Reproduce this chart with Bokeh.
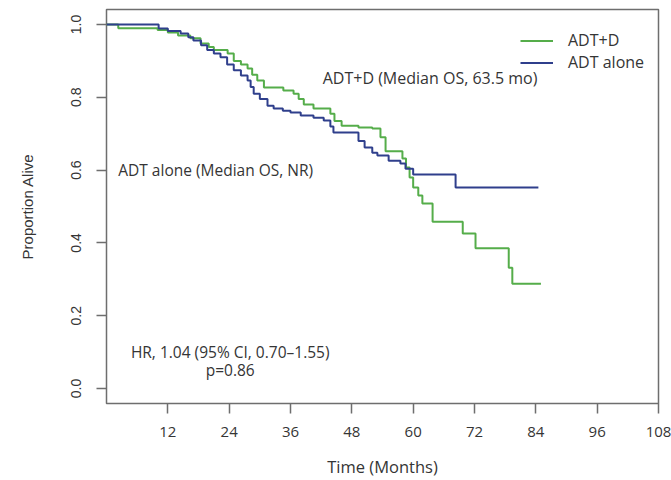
from bokeh.plotting import figure
from bokeh.models import Range1d, FixedTicker, Label, Legend, LegendItem
from bokeh.embed import file_html
from bokeh.resources import INLINE

# ---- data ----
adtd_time = [0, 2.3, 10, 12, 14, 16.4, 18.4, 20, 21, 23.7,
             24.9, 26.3, 27.6, 28.5, 29.5, 30.8, 34.6, 36.6, 37.6, 38.6,
             40.5, 43.8, 44.6, 46, 49.3, 52, 53.6, 54.6, 57.9, 58.6,
             59.3, 60, 61, 61.8, 63.8, 69.7, 72.2, 78.7, 79.4, 85]
adtd_surv = [1.0, 0.99, 0.985, 0.978, 0.97, 0.962, 0.948, 0.938, 0.93, 0.92,
             0.90, 0.89, 0.879, 0.862, 0.846, 0.827, 0.819, 0.81, 0.795, 0.78,
             0.769, 0.755, 0.735, 0.722, 0.717, 0.714, 0.69, 0.652, 0.632, 0.607,
             0.58, 0.552, 0.53, 0.508, 0.458, 0.426, 0.385, 0.332, 0.288, 0.288]

adt_time = [0, 10.2, 12, 14.5, 16, 17, 18.5, 19.7, 21, 22.3,
            23.6, 24.9, 26.3, 27.6, 28.2, 28.8, 30, 31.5, 32.7, 34.5,
            36, 38, 40.5, 42.5, 43.8, 44.4, 49.3, 50.5, 52, 53,
            55.2, 57.5, 58.5, 60, 68.3, 84.5]
adt_surv = [1.0, 0.989, 0.982, 0.975, 0.965, 0.956, 0.943, 0.93, 0.92, 0.91,
            0.89, 0.874, 0.86, 0.846, 0.828, 0.81, 0.795, 0.777, 0.769, 0.763,
            0.758, 0.75, 0.744, 0.736, 0.72, 0.703, 0.68, 0.662, 0.648, 0.64,
            0.626, 0.618, 0.604, 0.588, 0.552, 0.552]

x_ticks = [12, 24, 36, 48, 60, 72, 84, 96, 108]
y_ticks = [0.0, 0.2, 0.4, 0.6, 0.8, 1.0]
y_tick_labels = ["0.0", "0.2", "0.4", "0.6", "0.8", "1.0"]
series_names = ["ADT+D", "ADT alone"]

GREEN = "#55ad4a"
BLUE = "#2f3f8c"
AXC = "#6e6e6e"
TXT = "#353535"
HUM = "Open Sans"
HEL = "Liberation Sans"

p = figure(width=671, height=480, output_backend="svg", toolbar_location=None,
           x_range=Range1d(0, 108), y_range=Range1d(-0.0412, 1.0412),
           min_border_left=106, min_border_right=13, min_border_top=9,
           min_border_bottom=77)
p.grid.visible = False
p.outline_line_color = AXC
p.outline_line_width = 1.5
p.background_fill_color = "white"
p.border_fill_color = "white"

g = p.step(adtd_time, adtd_surv, mode="after", line_color=GREEN, line_width=2)
b = p.step(adt_time, adt_surv, mode="after", line_color=BLUE, line_width=2)

# x axis
xa = p.xaxis[0]
xa.ticker = FixedTicker(ticks=x_ticks)
xa.axis_line_color = None
xa.major_tick_out = 10
xa.major_tick_in = 0
xa.minor_tick_line_color = None
xa.major_tick_line_color = AXC
xa.major_tick_line_width = 1.5
xa.major_label_standoff = 13
xa.major_label_text_font = HUM
xa.major_label_text_font_size = "15px"
xa.major_label_text_color = TXT
xa.axis_label = "Time (Months)"
xa.axis_label_text_font = HUM
xa.axis_label_text_font_size = "16.5px"
xa.axis_label_text_font_style = "normal"
xa.axis_label_text_color = TXT
xa.axis_label_standoff = 15

# y axis
ya = p.yaxis[0]
ya.ticker = FixedTicker(ticks=y_ticks)
ya.major_label_overrides = {t: l for t, l in zip(y_ticks, y_tick_labels)}
ya.axis_line_color = None
ya.major_tick_out = 10
ya.major_tick_in = 0
ya.minor_tick_line_color = None
ya.major_tick_line_color = AXC
ya.major_tick_line_width = 1.5
ya.major_label_orientation = "vertical"
ya.major_label_standoff = 15
ya.major_label_text_font = HEL
ya.major_label_text_font_size = "14px"
ya.major_label_text_color = TXT
ya.axis_label = "Proportion Alive"
ya.axis_label_text_font = HEL
ya.axis_label_text_font_size = "15px"
ya.axis_label_text_font_style = "normal"
ya.axis_label_text_color = TXT
ya.axis_label_standoff = 33

# annotations
def lab(x, y, text, align="left", size="15.5px"):
    p.add_layout(Label(x=x, y=y, text=text, text_font=HUM, text_font_size=size,
                       text_color=TXT, text_align=align, text_baseline="middle"))

lab(42.3, 0.852, "ADT+D (Median OS, 63.5 mo)", size="16px")
lab(2.3, 0.600, "ADT alone (Median OS, NR)")
lab(24.2, 0.099, "HR, 1.04 (95% CI, 0.70\u20131.55)", "center")
lab(24.2, 0.050, "p=0.86", "center")

legend = Legend(items=[LegendItem(label=series_names[0], renderers=[g]),
                       LegendItem(label=series_names[1], renderers=[b])],
                location=(414, 330), border_line_alpha=0, background_fill_alpha=0,
                padding=0, spacing=-5, margin=0, glyph_width=33, glyph_height=17,
                label_height=17, label_standoff=15, label_text_font=HUM,
                label_text_font_size="16px", label_text_color=TXT)
p.add_layout(legend)

open("out.html", "w").write(file_html(p, INLINE))
